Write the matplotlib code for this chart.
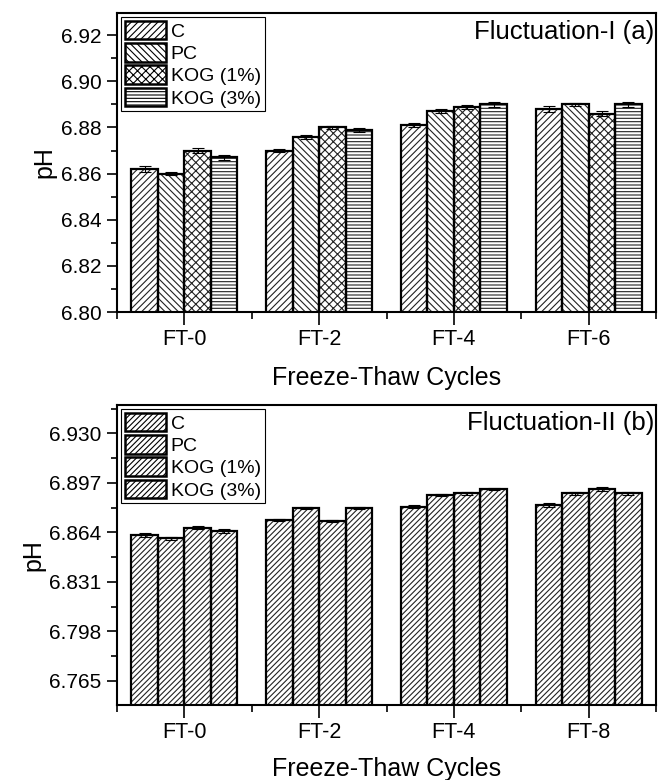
import matplotlib
matplotlib.use("Agg")
import matplotlib.pyplot as plt
import numpy as np
from matplotlib.patches import Patch
from matplotlib.ticker import FixedLocator, FormatStrFormatter

plt.rcParams['font.family'] = ['Liberation Sans', 'DejaVu Sans']
plt.rcParams['hatch.linewidth'] = 0.8

series = ["C", "PC", "KOG (1%)", "KOG (3%)"]

cats_a = ["FT-0", "FT-2", "FT-4", "FT-6"]
vals_a = {
    "C":        [6.862, 6.870, 6.881, 6.888],
    "PC":       [6.860, 6.876, 6.887, 6.890],
    "KOG (1%)": [6.870, 6.880, 6.889, 6.886],
    "KOG (3%)": [6.867, 6.879, 6.890, 6.890],
}
errs_a = {
    "C":        [0.0012, 0.0008, 0.0008, 0.0012],
    "PC":       [0.0008, 0.0008, 0.0008, 0.0008],
    "KOG (1%)": [0.0012, 0.0008, 0.0008, 0.0010],
    "KOG (3%)": [0.0012, 0.0008, 0.0010, 0.0010],
}

cats_b = ["FT-0", "FT-2", "FT-4", "FT-8"]
vals_b = {
    "C":        [6.8624, 6.8722, 6.8811, 6.8822],
    "PC":       [6.8600, 6.8804, 6.8891, 6.8900],
    "KOG (1%)": [6.8673, 6.8717, 6.8900, 6.8929],
    "KOG (3%)": [6.8650, 6.8804, 6.8929, 6.8900],
}
errs_b = {
    "C":        [0.0012, 0.0008, 0.0010, 0.0012],
    "PC":       [0.0008, 0.0008, 0.0008, 0.0008],
    "KOG (1%)": [0.0012, 0.0008, 0.0008, 0.0012],
    "KOG (3%)": [0.0012, 0.0008, 0.0008, 0.0008],
}

hatches_a = ["/////", "\\\\\\\\\\", "xxxx", "-----"]
hatches_b = ["//////"] * 4

fig = plt.figure(figsize=(6.59, 7.80), dpi=100)
ax1 = fig.add_axes([0.1775, 0.6, 0.818, 0.3833])
ax2 = fig.add_axes([0.1775, 0.0962, 0.818, 0.3846])

width = 0.197

def draw(ax, cats, vals, errs, hatches, ylim, title, yticks, fmt, title_y, xlabelpad):
    x = np.arange(len(cats))
    for i, s in enumerate(series):
        pos = x + (i - 1.5) * width
        ax.bar(pos, vals[s], width, bottom=0, color='white', edgecolor='#222222',
               hatch=hatches[i], linewidth=0, zorder=2)
        ax.bar(pos, vals[s], width, bottom=0, fill=False, edgecolor='black',
               linewidth=1.6, zorder=3)
        ax.errorbar(pos, vals[s], yerr=errs[s], fmt='none', ecolor='black',
                    elinewidth=0.8, capsize=4.5, capthick=0.8, zorder=4)
    ax.set_xlim(-0.5, len(cats) - 0.5)
    ax.set_ylim(*ylim)
    ax.set_xticks(x)
    ax.set_xticklabels(cats)
    ax.xaxis.set_minor_locator(FixedLocator(np.arange(-0.5, len(cats), 1.0)))
    ax.yaxis.set_major_locator(FixedLocator(yticks))
    step = yticks[1] - yticks[0]
    ax.yaxis.set_minor_locator(FixedLocator(np.arange(yticks[0] - step / 2, ylim[1], step / 2)))
    ax.yaxis.set_major_formatter(FormatStrFormatter(fmt))
    ax.tick_params(axis='y', which='major', length=7, width=1.2, labelsize=15, direction='out', pad=4)
    ax.tick_params(axis='y', which='minor', length=4, width=1.2, direction='out')
    ax.tick_params(axis='x', which='major', length=9, width=1.2, labelsize=15.5, direction='out', pad=3)
    ax.tick_params(axis='x', which='minor', length=5, width=1.2, direction='out')
    for sp in ax.spines.values():
        sp.set_linewidth(1.5)
    ax.set_ylabel("pH", fontsize=18, labelpad=3)
    ax.set_xlabel("Freeze-Thaw Cycles", fontsize=18, labelpad=xlabelpad)
    ax.text(0.997, title_y, title, transform=ax.transAxes,
            ha='right', va='center', fontsize=18.5)
    handles = [Patch(facecolor='white', edgecolor='black', hatch=hatches[i],
                     linewidth=1.8) for i in range(len(series))]
    leg = ax.legend(handles, series, loc='upper left', fontsize=14, frameon=True,
                    fancybox=False, framealpha=1, edgecolor='black',
                    handlelength=2.1, handleheight=1.1, labelspacing=0.12,
                    handletextpad=0.27, borderpad=0.2, borderaxespad=0.2)
    leg.get_frame().set_linewidth(0.8)

draw(ax1, cats_a, vals_a, errs_a, hatches_a, (6.80, 6.9296), "Fluctuation-I (a)",
     [6.80, 6.82, 6.84, 6.86, 6.88, 6.90, 6.92], '%.2f', 0.935, 12)
draw(ax2, cats_b, vals_b, errs_b, hatches_b, (6.749, 6.949), "Fluctuation-II (b)",
     [6.765, 6.798, 6.831, 6.864, 6.897, 6.930], '%.3f', 0.94, 10)

fig.savefig("out.png", dpi=100)
